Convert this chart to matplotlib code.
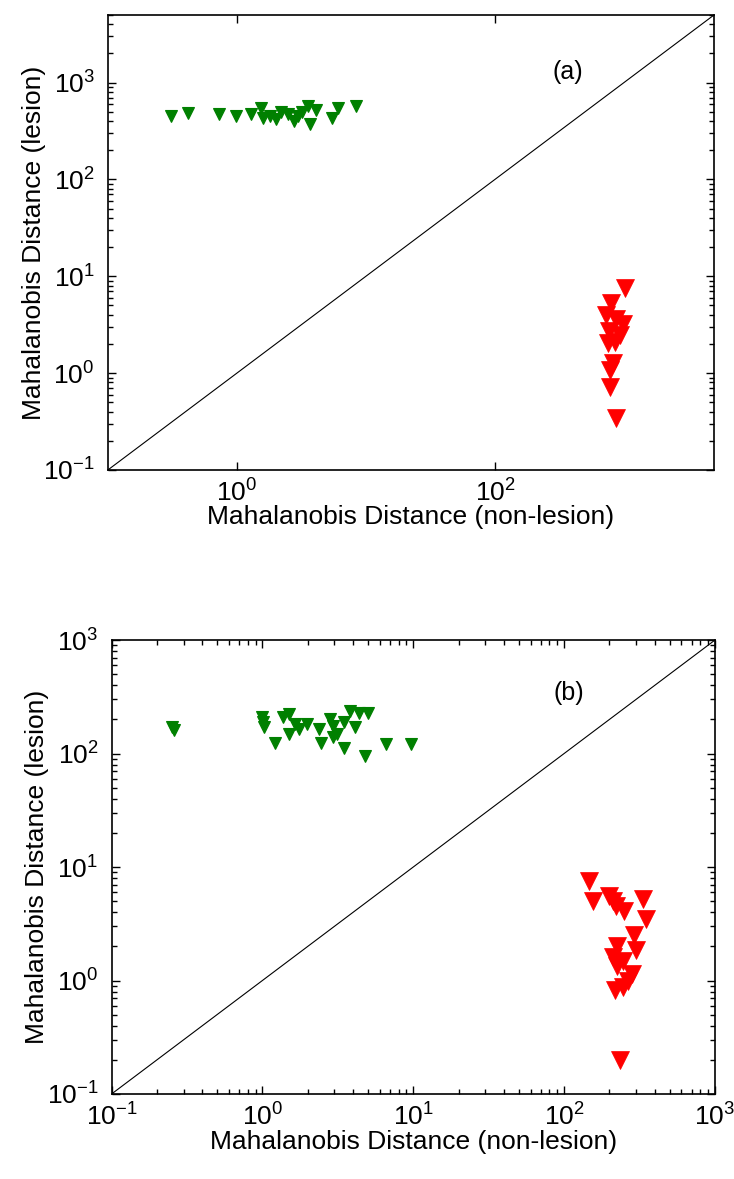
import matplotlib
matplotlib.use('Agg')
import matplotlib.pyplot as plt
from matplotlib.ticker import LogLocator, NullLocator, FixedLocator

plt.rcParams['font.family'] = ['Liberation Sans', 'DejaVu Sans']
plt.rcParams['mathtext.fontset'] = 'custom'
plt.rcParams['mathtext.rm'] = 'Liberation Sans'
plt.rcParams['mathtext.default'] = 'regular'
plt.rcParams['axes.unicode_minus'] = False

# (a) non-lesion / lesion distances
a_green_x = [0.31, 0.42, 0.72, 0.98, 1.29, 1.55, 1.60, 1.79, 2.0, 2.2, 2.48,
             2.76, 2.97, 3.2, 3.56, 3.69, 4.11, 5.50, 6.04, 8.31]
a_green_y = [452, 490, 470, 452, 478, 551, 435, 452, 420, 500, 470,
             400, 452, 500, 575, 370, 525, 435, 550, 575]
a_red_x = [1020, 790, 725, 870, 980, 770, 930, 750, 850, 820, 775, 775, 870]
a_red_y = [7.6, 5.3, 4.0, 3.6, 3.2, 2.7, 2.5, 2.05, 2.1, 1.27, 1.08, 0.72, 0.34]

# (b)
b_green_x = [0.25, 0.26, 1.0, 1.01, 1.02, 1.22, 1.36, 1.50, 1.50, 1.64, 1.75,
             1.98, 2.38, 2.45, 2.82, 2.95, 2.95, 3.1, 3.47, 3.5, 3.8, 4.1,
             4.4, 4.8, 5.0, 6.6, 9.6]
b_green_y = [172, 160, 209, 188, 170, 124, 209, 224, 150, 182, 166,
             182, 166, 124, 202, 176, 140, 148, 112, 188, 237, 172,
             227, 95, 227, 122, 122]
b_red_x = [146, 155, 200, 211, 221, 250, 333, 347, 290, 223, 302, 211, 245,
           223, 282, 265, 218, 245, 234]
b_red_y = [7.5, 5.0, 5.5, 5.0, 4.5, 4.1, 5.2, 3.5, 2.5, 2.0, 1.86, 1.6, 1.5,
           1.35, 1.13, 0.99, 0.83, 0.87, 0.20]

xlabel = 'Mahalanobis Distance (non-lesion)'
ylabel = 'Mahalanobis Distance (lesion)'

fig = plt.figure(figsize=(7.34, 11.79), dpi=100)
ax1 = fig.add_axes([0.147, 0.6014, 0.826, 0.386])
ax2 = fig.add_axes([0.152, 0.0721, 0.822, 0.385])


def panel(ax, gx, gy, rx, ry, lim, tag, tagpos, xpad):
    ax.set_xscale('log')
    ax.set_yscale('log')
    ax.plot(lim, lim, color='black', lw=0.8)
    ax.plot(gx, gy, 'v', color='#008000', ms=9, mec='#008000', mew=0.8)
    ax.plot(rx, ry, 'v', color='red', ms=13, mec='red', mew=0.5)
    ax.set_xlim(lim)
    ax.set_ylim(lim)
    ax.text(tagpos[0], tagpos[1], tag, fontsize=18, ha='center', va='center')
    ax.set_xlabel(xlabel, fontsize=19, labelpad=xpad)
    ax.set_ylabel(ylabel, fontsize=19, labelpad=-2)
    ax.tick_params(which='both', direction='in', top=True, right=True,
                   labelsize=19, width=1)
    ax.tick_params(axis='x', which='both', pad=6.5)
    ax.tick_params(axis='y', which='both', pad=9.5)
    ax.tick_params(which='major', length=6)
    ax.tick_params(which='minor', length=3.5)
    for s in ax.spines.values():
        s.set_linewidth(1.2)


panel(ax1, a_green_x, a_green_y, a_red_x, a_red_y, (0.1, 5000), '(a)', (370, 1270), -1)
ax1.xaxis.set_major_locator(FixedLocator([1, 100]))
ax1.xaxis.set_minor_locator(NullLocator())
ax1.yaxis.set_major_locator(LogLocator(base=10, numticks=10))

panel(ax2, b_green_x, b_green_y, b_red_x, b_red_y, (0.1, 1000), '(b)', (107, 340), 0)
ax2.xaxis.set_major_locator(LogLocator(base=10, numticks=10))

plt.savefig('out.png', dpi=100)
